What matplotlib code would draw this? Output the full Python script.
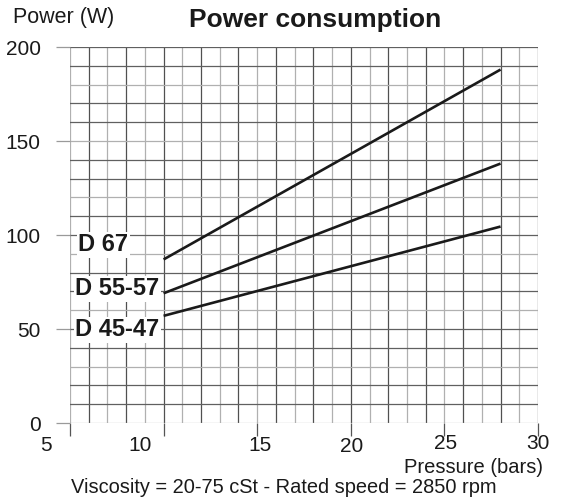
import matplotlib
matplotlib.use("Agg")
import matplotlib.pyplot as plt
from matplotlib.transforms import ScaledTranslation

plt.rcParams['font.family'] = ['Liberation Sans', 'DejaVu Sans']

# Data
models = ["D 67", "D 55-57", "D 45-47"]
pressure = [10, 28]
power_d67 = [87, 188]
power_d55 = [69, 138]
power_d45 = [57, 104.5]
series = [power_d67, power_d55, power_d45]
label_pos = [(5.45, 94.7), (5.27, 71.3), (5.27, 49.5)]
xticks = [5, 10, 15, 20, 25, 30]
yticks = [0, 50, 100, 150, 200]

W, H = 570, 498
fig = plt.figure(figsize=(W / 100, H / 100), dpi=100)
ax = fig.add_axes([70 / W, (H - 423) / H, 468 / W, 376 / H])
ax.set_xlim(5, 30)
ax.set_ylim(0, 200)

# grid
for i, xv in enumerate(range(5, 31)):
    ax.axvline(xv, color='#505050' if i % 2 else '#b0b0b0', lw=0.9, zorder=1)
for j, yv in enumerate(range(0, 201, 10)):
    ax.axhline(yv, color='#606060' if j % 3 else '#b0b0b0', lw=0.9, zorder=1)
for s in ax.spines.values():
    s.set_visible(False)

for vals in series:
    ax.plot(pressure, vals, color='#1a1a1a', lw=1.9, solid_capstyle='butt', zorder=3)

for name, (lx, ly) in zip(models, label_pos):
    ax.text(lx, ly, name, fontsize=17, fontweight='bold', color='#1a1a1a',
            ha='left', va='center', zorder=4,
            bbox=dict(facecolor='white', edgecolor='none', pad=1.0))

ax.set_xticks(xticks)
ax.set_xticklabels([str(v) for v in xticks])
ax.set_yticks(yticks)
ax.set_yticklabels([str(v) for v in yticks])
ax.tick_params(axis='x', direction='out', length=9, width=0.9, color='#555555',
               labelsize=15, pad=0, labelcolor='#1a1a1a')
ax.tick_params(axis='y', direction='out', length=10, width=0.9, color='#9a9a9a',
               labelsize=15, pad=11, labelcolor='#1a1a1a')
offsets = [(-24, 0), (-24, 0), (3, 0), (1, -1), (1, 2), (0, 2)]
for lab, (dx, dy) in zip(ax.get_xticklabels(), offsets):
    lab.set_transform(lab.get_transform() + ScaledTranslation(dx / 100, dy / 100, fig.dpi_scale_trans))

fig.text(13 / W, 1 - 18 / H, "Power (W)", fontsize=15.5, ha='left', va='center', color='#1a1a1a')
fig.text(315 / W, 1 - 20 / H, "Power consumption", fontsize=19, fontweight='bold',
         ha='center', va='center', color='#1a1a1a')
fig.text(543 / W, 1 - 467 / H, "Pressure (bars)", fontsize=14.5, ha='right', va='center', color='#1a1a1a')
fig.text(284 / W, 1 - 487 / H, "Viscosity = 20-75 cSt - Rated speed = 2850 rpm", fontsize=14.4,
         ha='center', va='center', color='#1a1a1a')

fig.savefig("out.png", dpi=100, facecolor='white')
